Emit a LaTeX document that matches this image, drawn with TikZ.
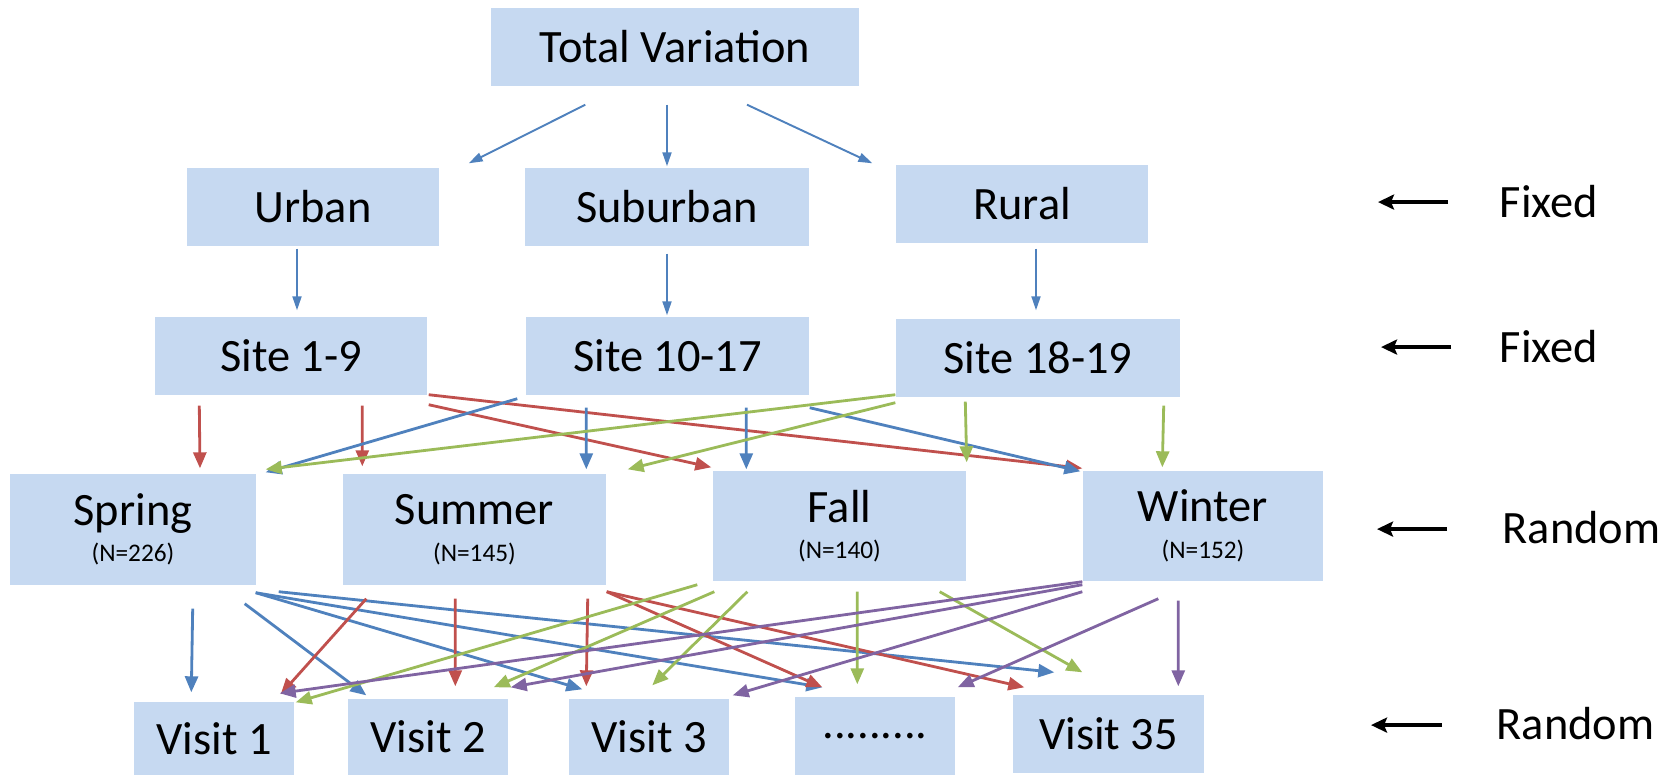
\documentclass[tikz,border=0pt]{standalone}
\usepackage{fontspec}
\setmainfont{Carlito}
\usetikzlibrary{arrows.meta,calc}
\definecolor{boxblue}{RGB}{198,217,241}
\definecolor{lineblue}{RGB}{79,129,189}
\definecolor{linered}{RGB}{192,80,77}
\definecolor{linegreen}{RGB}{155,187,89}
\definecolor{linepurple}{RGB}{128,100,162}
\newcommand{\txtbig}{\fontsize{13.2}{15}\selectfont}
\newcommand{\txtsmall}{\fontsize{7.2}{8.6}\selectfont}
\tikzset{
  box/.style={fill=boxblue, inner sep=0pt, font=\txtbig, align=center},
  thin arrow/.style={draw=lineblue, line width=0.55pt, -{Triangle[length=1.4mm,width=0.9mm]}},
  level arrow/.style={line width=0.8pt, -{Triangle[length=1.6mm,width=1.3mm]}},
  side arrow/.style={line width=1pt, -{Stealth[length=1.6mm,width=1.5mm,inset=0.3mm]}},
  side label/.style={inner sep=0pt, anchor=base west, font=\txtbig}
}

\begin{document}
\begin{tikzpicture}[x=0.1mm, y=-0.1mm]
    \useasboundingbox (0,0) rectangle (1679,775);

    % Top
    \node[box, minimum width=36.8mm, minimum height=7.8mm] (total) at (675,47) {Total Variation};

    % Area type
    \node[box, minimum width=25.2mm, minimum height=7.8mm] (urban) at (313,207) {Urban};
    \node[box, minimum width=28.4mm, minimum height=7.8mm] (suburban) at (667,207) {Suburban};
    \node[box, minimum width=25.2mm, minimum height=7.8mm] (rural) at (1022,204) {Rural};

    % Sites
    \node[box, minimum width=27.2mm, minimum height=7.8mm] (site1) at (291,356) {Site 1-9};
    \node[box, minimum width=28.3mm, minimum height=7.8mm] (site10) at (667.5,356) {Site 10-17};
    \node[box, minimum width=28.4mm, minimum height=7.8mm] (site18) at (1038,358) {Site 18-19};

    % Seasons
    \node[box, minimum width=24.6mm, minimum height=11.1mm] (spring) at (133,529.5) {\raisebox{-1.2pt}{Spring}\\[-3.4pt]{\txtsmall (N=226)}};
    \node[box, minimum width=26.3mm, minimum height=11.1mm] (summer) at (474.5,529.5) {\raisebox{-1.2pt}{Summer}\\[-3.4pt]{\txtsmall (N=145)}};
    \node[box, minimum width=25.3mm, minimum height=11mm] (fall) at (839.5,526) {\raisebox{-1.2pt}{Fall}\\[-3.4pt]{\txtsmall (N=140)}};
    \node[box, minimum width=24mm, minimum height=11mm] (winter) at (1203,526) {\raisebox{-1.2pt}{Winter}\\[-3.4pt]{\txtsmall (N=152)}};

    % Visits
    \node[box, minimum width=16mm, minimum height=7.3mm] (visit1) at (214,738.5) {Visit 1};
    \node[box, minimum width=16mm, minimum height=7.6mm] (visit2) at (428,737) {Visit 2};
    \node[box, minimum width=16mm, minimum height=7.6mm] (visit3) at (649,737) {Visit 3};
    \node[box, minimum width=16mm, minimum height=7.8mm] (visitdots) at (875,736) {.........};
    \node[box, minimum width=19.1mm, minimum height=7.8mm] (visit35) at (1108.5,734) {Visit 35};

    % Fixed / random labels
    \node[side label] (fixedA) at (1499,217) {Fixed};
    \node[side label] (fixedB) at (1499,362) {Fixed};
    \node[side label] (randomA) at (1502,543) {Random};
    \node[side label] (randomB) at (1496,739) {Random};
    \draw[side arrow] ($(fixedA.west)+(-51,1)$) -- ++(-70,0);
    \draw[side arrow] ($(fixedB.west)+(-48,1)$) -- ++(-70,0);
    \draw[side arrow] ($(randomA.west)+(-55,2)$) -- ++(-70,0);
    \draw[side arrow] ($(randomB.west)+(-54,2)$) -- ++(-71,0);

    % Total -> area type
    \draw[thin arrow] ($(total.south west)+(95,18)$) -- ($(urban.north east)+(29,-4)$);
    \draw[thin arrow] ($(total.south)+(-8,18)$) -- ($(suburban.north)+(0,-1)$);
    \draw[thin arrow] ($(total.south)+(72,18)$) -- ($(rural.north west)+(-23,-1)$);

    % Area type -> sites
    \draw[thin arrow] ($(urban.south)+(-16,2)$) -- ($(site1.north)+(6,-6)$);
    \draw[thin arrow] ($(suburban.south)+(0,7)$) -- ($(site10.north)+(-0.5,-1)$);
    \draw[thin arrow] ($(rural.south)+(14,5)$) -- ($(site18.north)+(-2,-8)$);

    % Sites -> seasons
    \draw[level arrow, linered] ($(site1.south west)+(45,10)$) -- ($(spring.north)+(67,-5)$);
    \draw[level arrow, linered] ($(site1.south west)+(208,10)$) -- ($(summer.north west)+(20,-7)$);
    \draw[level arrow, linered] ($(site1.south east)+(1,9)$) -- ($(fall.north west)+(-1,-3)$);
    \draw[level arrow, linered] ($(site1.south east)+(1,-1)$) -- ($(winter.north west)+(0,-2)$);
    \draw[level arrow, lineblue] ($(site10.south west)+(-8,3)$) -- ($(spring.north east)+(9,-1)$);
    \draw[level arrow, lineblue] ($(site10.south west)+(61,12)$) -- ($(summer.north west)+(244,-4)$);
    \draw[level arrow, lineblue] ($(site10.south west)+(221,12)$) -- ($(fall.north west)+(34,-1)$);
    \draw[level arrow, lineblue] ($(site10.south east)+(0,12)$) -- ($(winter.north west)+(-2,1)$);
    \draw[level arrow, linegreen] ($(site18.south west)+(0,-3)$) -- ($(spring.north east)+(9,-4)$);
    \draw[level arrow, linegreen] ($(site18.south west)+(0,5)$) -- ($(summer.north east)+(21,-4)$);
    \draw[level arrow, linegreen] ($(site18.south west)+(70,4)$) -- ($(fall.north east)+(0,-8)$);
    \draw[level arrow, linegreen] ($(site18.south east)+(-17,8)$) -- ($(winter.north west)+(80,-3)$);

    % Seasons -> visits
    \draw[level arrow, lineblue] ($(spring.south east)+(-64,23)$) -- ($(visit1.north west)+(58,-9)$);
    \draw[level arrow, lineblue] ($(spring.south east)+(-12,18)$) -- ($(visit2.north west)+(19,-3)$);
    \draw[level arrow, lineblue] ($(spring.south east)+(-1,7)$) -- ($(visit3.north west)+(14,-9)$);
    \draw[level arrow, lineblue] ($(spring.south east)+(-1,7)$) -- ($(visitdots.north west)+(28,-9)$);
    \draw[level arrow, lineblue] ($(spring.south east)+(22,6)$) -- ($(visit35.north west)+(42,-22)$);
    \draw[level arrow, linered] ($(summer.south west)+(24,13)$) -- ($(visit1.north east)+(-14,-7)$);
    \draw[level arrow, linered] ($(summer.south west)+(113,13)$) -- ($(visit2.north west)+(108,-12)$);
    \draw[level arrow, linered] ($(summer.south east)+(-19,13)$) -- ($(visit3.north west)+(18,-12)$);
    \draw[level arrow, linered] ($(summer.south east)+(0,6)$) -- ($(visitdots.north west)+(28,-9)$);
    \draw[level arrow, linered] ($(summer.south east)+(0,6)$) -- ($(visit35.north west)+(12,-7)$);
    \draw[level arrow, linegreen] ($(fall.south west)+(-15,3)$) -- ($(visit1.north east)+(1,1)$);
    \draw[level arrow, linegreen] ($(fall.south west)+(2,10)$) -- ($(visit2.north east)+(-15,-11)$);
    \draw[level arrow, linegreen] ($(fall.south west)+(35,10)$) -- ($(visit3.north west)+(84,-13)$);
    \draw[level arrow, linegreen] ($(fall.south west)+(145,10)$) -- ($(visitdots.north west)+(63,-12)$);
    \draw[level arrow, linegreen] ($(fall.south east)+(-27,10)$) -- ($(visit35.north west)+(70,-22)$);
    \draw[level arrow, linepurple] ($(winter.south west)+(0,0)$) -- ($(visit1.north east)+(-15,-8)$);
    \draw[level arrow, linepurple] ($(winter.south west)+(0,3)$) -- ($(visit2.north east)+(2,-11)$);
    \draw[level arrow, linepurple] ($(winter.south west)+(0,10)$) -- ($(visit3.north east)+(3,-3)$);
    \draw[level arrow, linepurple] ($(winter.south west)+(76,17)$) -- ($(visitdots.north east)+(2,-9)$);
    \draw[level arrow, linepurple] ($(winter.south west)+(96,19)$) -- ($(visit35.north west)+(166,-8)$);
\end{tikzpicture}
\end{document}
